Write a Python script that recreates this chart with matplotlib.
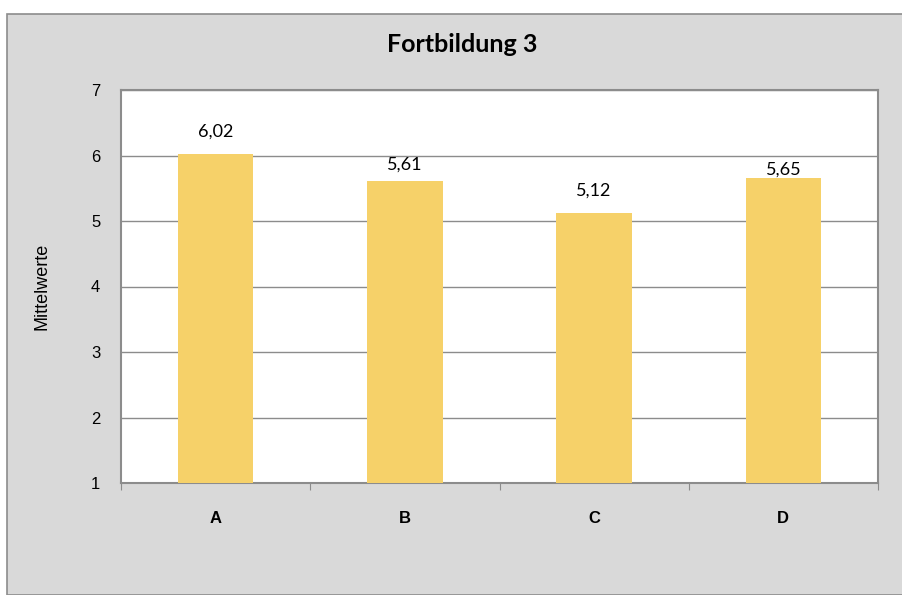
import matplotlib
matplotlib.use("Agg")
import matplotlib.pyplot as plt
from matplotlib.patches import Rectangle

categories = ["A", "B", "C", "D"]
values = [6.02, 5.61, 5.12, 5.65]
value_labels = ["6,02", "5,61", "5,12", "5,65"]
label_offsets_pt = [16, 12, 16, 6]
y_ticks = [1, 2, 3, 4, 5, 6, 7]

fig = plt.figure(figsize=(9.03, 5.95), dpi=100)
fig.patch.set_facecolor("white")
bg = Rectangle((7 / 903, 0), 1 - 7 / 903, 1 - 14 / 595, transform=fig.transFigure,
               facecolor="#D9D9D9", edgecolor="#8C8C8C", linewidth=1.2, zorder=-10)
fig.patches.append(bg)

ax = fig.add_axes([121 / 903, 1 - 483 / 595, (878 - 121) / 903, (483 - 90) / 595])
ax.set_zorder(1)
ax.set_facecolor("white")
x = list(range(len(categories)))
ax.bar(x, [v - 1 for v in values], bottom=1, width=0.4, color="#F6D169", zorder=3)
ax.set_xlim(-0.5, len(categories) - 0.5)
ax.set_ylim(1, 7)
ax.set_yticks(y_ticks)
ax.set_yticklabels([str(t) for t in y_ticks], fontsize=12, family="Liberation Sans")
ax.tick_params(axis="y", length=0, pad=15)
ax.grid(axis="y", color="#8C8C8C", linewidth=1.0, zorder=1)
ax.set_xticks([i - 0.5 for i in range(len(categories) + 1)], minor=False)
ax.set_xticklabels([])
ax.tick_params(axis="x", which="major", length=5, color="#8C8C8C", direction="out")
ax.set_xticks(x, minor=True)
ax.set_xticklabels(categories, minor=True, fontsize=12, fontweight="bold", family="Liberation Sans")
ax.tick_params(axis="x", which="minor", length=0, pad=20)
for s in ax.spines.values():
    s.set_color("#8C8C8C")
    s.set_linewidth(1.5)

for xi, v, lab, off in zip(x, values, value_labels, label_offsets_pt):
    ax.annotate(lab, (xi, v), xytext=(0, off), textcoords="offset points",
                ha="center", va="center", fontsize=13, family="Lato", zorder=4)

ax.set_ylabel("Mittelwerte", fontsize=13, family="Liberation Sans", labelpad=29)
fig.text(462 / 903, 1 - 45 / 595, "Fortbildung 3", ha="center", va="center",
         fontsize=18, fontweight="bold", family="Lato")

fig.savefig("out.png", dpi=100)
